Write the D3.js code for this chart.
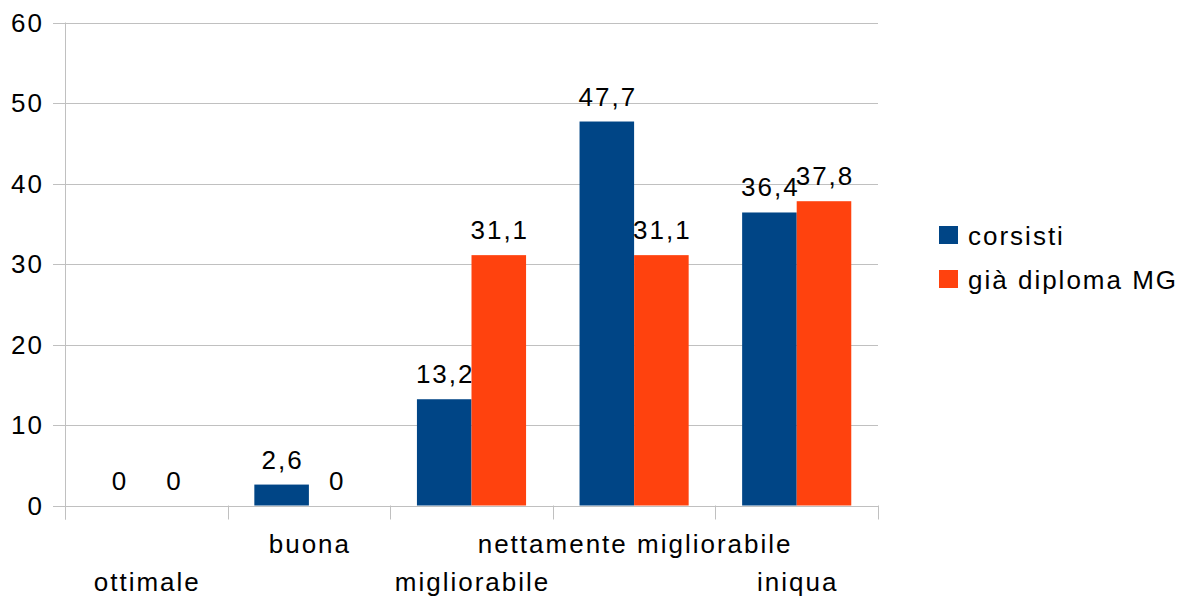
<!DOCTYPE html>
<html>
<head>
<meta charset="utf-8">
<script src="https://cdn.jsdelivr.net/npm/d3@7"></script>
<style>
  html, body { margin: 0; padding: 0; background: #fff; }
  svg text { font-family: "Liberation Sans", Arial, sans-serif; fill: #000; font-size: 26px; letter-spacing: 2px; }
</style>
</head>
<body>
<svg id="chart" width="1191" height="597"></svg>
<script>
const categories = ["ottimale", "buona", "migliorabile", "nettamente migliorabile", "iniqua"];
const seriesNames = ["corsisti", "già diploma MG"];
const corsisti = [0, 2.6, 13.2, 47.7, 36.4];
const giaDiploma = [0, 0, 31.1, 31.1, 37.8];
const yTicks = [0, 10, 20, 30, 40, 50, 60];
const colors = ["#004586", "#ff420e"];

const seriesValues = [corsisti, giaDiploma];
const svg = d3.select("#chart");

const plot = { left: 65, right: 878, top: 22.5, bottom: 505.5 };

const x0 = d3.scaleBand().domain(categories).range([plot.left, plot.right]).padding(0);
const x1 = d3.scaleBand().domain(seriesNames).range([0, x0.bandwidth()])
  .paddingInner(0).paddingOuter(0.49);
const y = d3.scaleLinear().domain([0, 60]).range([plot.bottom, plot.top]);

const fmt = v => String(v).replace(".", ",");

// horizontal gridlines with short ticks to the left of the axis
const grid = svg.append("g");
grid.selectAll("line").data(yTicks).join("line")
  .attr("x1", plot.left - 12).attr("x2", plot.right)
  .attr("y1", d => Math.round(y(d)) + 0.5).attr("y2", d => Math.round(y(d)) + 0.5)
  .attr("stroke", "#c0c0c0").attr("stroke-width", 1);

// y axis line
svg.append("line")
  .attr("x1", plot.left + 0.5).attr("x2", plot.left + 0.5)
  .attr("y1", plot.top).attr("y2", plot.bottom + 14)
  .attr("stroke", "#c0c0c0");

// category boundary ticks below the baseline
const bounds = categories.map(c => x0(c)).concat([plot.right]);
svg.append("g").selectAll("line").data(bounds).join("line")
  .attr("x1", d => Math.round(d) + 0.5).attr("x2", d => Math.round(d) + 0.5)
  .attr("y1", plot.bottom).attr("y2", plot.bottom + 14)
  .attr("stroke", "#c0c0c0");

// y tick labels
svg.append("g").selectAll("text").data(yTicks).join("text")
  .attr("x", 44).attr("y", d => y(d))
  .attr("dy", "0.36em")
  .attr("text-anchor", "end")
  .text(d => d);

// bars
const groups = svg.append("g").selectAll("g").data(categories).join("g")
  .attr("transform", c => `translate(${x0(c)},0)`);

const cells = groups.selectAll("g.cell")
  .data((c, i) => seriesNames.map((s, k) => ({ s, k, v: seriesValues[k][i] })))
  .join("g").attr("class", "cell");

cells.append("rect")
  .attr("x", d => x1(d.s))
  .attr("width", x1.bandwidth())
  .attr("y", d => y(d.v))
  .attr("height", d => y(0) - y(d.v))
  .attr("fill", d => colors[d.k]);

cells.append("text")
  .attr("x", d => x1(d.s) + x1.bandwidth() / 2 + 1)
  .attr("y", d => y(d.v) - 16)
  .attr("text-anchor", "middle")
  .text(d => fmt(d.v));

// category labels, staggered on two rows
svg.append("g").selectAll("text").data(categories).join("text")
  .attr("x", c => x0(c) + x0.bandwidth() / 2 + 1)
  .attr("y", (c, i) => i % 2 === 0 ? 591 : 553)
  .attr("text-anchor", "middle")
  .text(c => c);

// legend
const legend = svg.append("g").attr("transform", "translate(939,226)");
const items = legend.selectAll("g").data(seriesNames).join("g")
  .attr("transform", (d, i) => `translate(0,${i * 44})`);
items.append("rect").attr("width", 19).attr("height", 18)
  .attr("fill", (d, i) => colors[i]);
items.append("text").attr("x", 29).attr("y", 19)
  .text(d => d);
</script>
</body>
</html>
